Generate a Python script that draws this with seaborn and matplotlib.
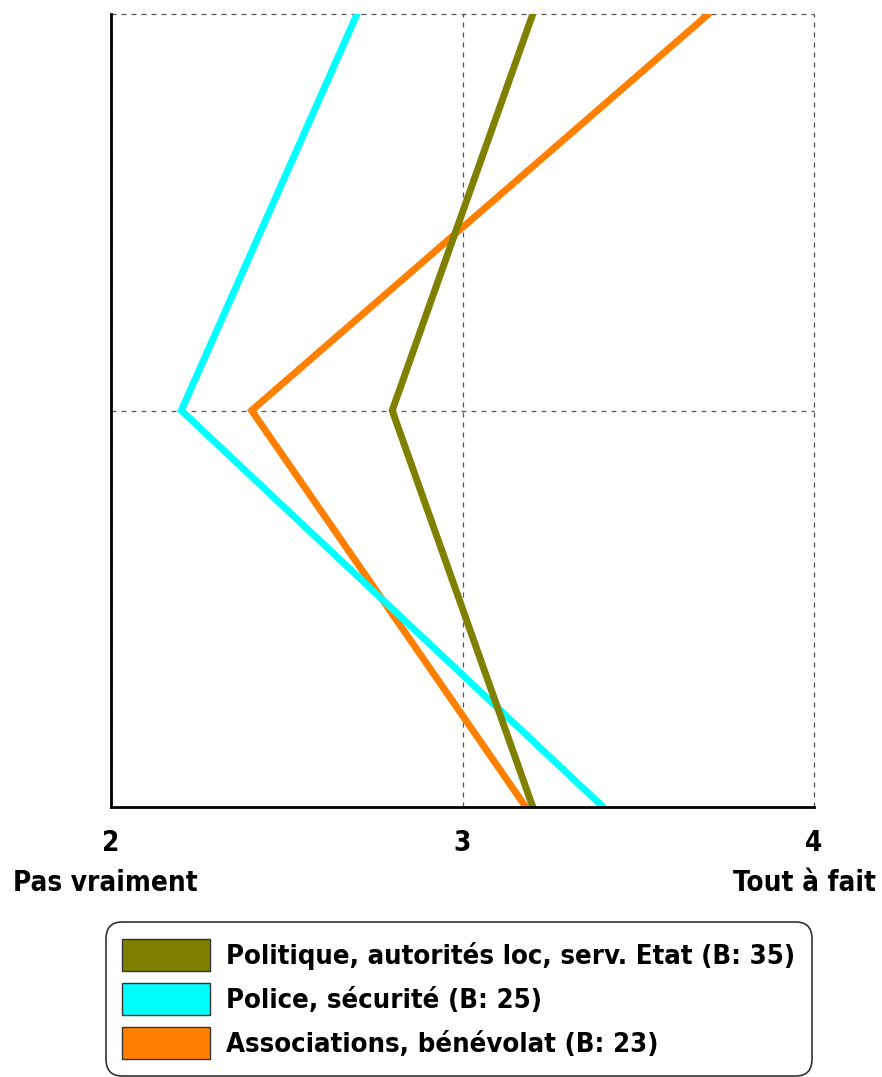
import matplotlib
matplotlib.use("Agg")
import matplotlib.pyplot as plt
import seaborn as sns
import pandas as pd
from matplotlib.patches import Patch
from matplotlib.font_manager import FontProperties

series_names = ["Politique, autorités loc, serv. Etat (B: 35)",
                "Police, sécurité (B: 25)",
                "Associations, bénévolat (B: 23)"]
colors = ["#808000", "#00FFFF", "#FF8000"]
items = [0, 1, 2]
politique = [3.2, 2.8, 3.2]
police = [2.7, 2.2, 3.4]
associations = [3.7, 2.4, 3.18]
x_ticks = [2, 3, 4]
x_labels = ["2", "3", "4"]
scale_labels = ["Pas vraiment", "Tout à fait"]

sns.set_style("white")
plt.rcParams['font.family'] = ['DejaVu Sans']
plt.rcParams['text.color'] = 'black'
plt.rcParams['xtick.color'] = 'black'

fig = plt.figure(figsize=(8.82, 10.77), dpi=100)
ax = fig.add_axes([111/882, 1-807/1077, (814-111)/882, (807-14)/1077])

rows = []
for name, vals in zip(series_names, [politique, police, associations]):
    for i, v in zip(items, vals):
        rows.append({"serie": name, "item": i, "val": v})
df = pd.DataFrame(rows)

order = [2, 1, 0]
for k in order:
    sub = df[df.serie == series_names[k]]
    sns.lineplot(data=sub, x="val", y="item", sort=False, color=colors[k],
                 linewidth=5.0, ax=ax, legend=False, estimator=None,
                 solid_capstyle='round', solid_joinstyle='miter', zorder=3+(2-k))

tick_fp = FontProperties(family='DejaVu Sans', stretch='condensed', weight='bold', size=20)
ax.set_xlim(2, 4)
ax.set_ylim(2, 0)
ax.set_xticks(x_ticks)
ax.set_xticklabels(x_labels, fontproperties=tick_fp, color='black')
ax.set_yticks([0, 1])
ax.set_yticklabels([])
ax.tick_params(axis='both', length=0, pad=16)
ax.set_xlabel("")
ax.set_ylabel("")
ax.grid(True, linestyle=(0, (4, 4)), color='#555555', linewidth=0.9)
for gl in ax.get_xgridlines() + ax.get_ygridlines():
    gl.set_clip_on(False)
ax.set_axisbelow(True)
for s in ['top', 'right']:
    ax.spines[s].set_visible(False)
for s in ['left', 'bottom']:
    ax.spines[s].set_color('black')
    ax.spines[s].set_linewidth(2)
    ax.spines[s].set_zorder(10)

fig.text(105/882, 1-883/1077, scale_labels[0], fontproperties=tick_fp,
         ha='center', va='center', color='black')
fig.text(876/882, 1-883/1077, scale_labels[1], fontproperties=tick_fp,
         ha='right', va='center', color='black')

leg_fp = FontProperties(family='DejaVu Sans', stretch='condensed', weight='bold', size=19.7)
handles = [Patch(facecolor=c, edgecolor='#333333', linewidth=1) for c in colors]
leg = fig.legend(handles, series_names, loc='center', bbox_to_anchor=(459/882, 1-999/1077),
                 prop=leg_fp, frameon=True, fancybox=True,
                 handlelength=3.2, handleheight=1.45, labelspacing=0.42, handletextpad=0.6,
                 borderpad=0.6, borderaxespad=0, edgecolor='black')
leg.get_frame().set_linewidth(1.2)
leg.get_frame().set_boxstyle('round', pad=0, rounding_size=0.6)
for t in leg.get_texts():
    t.set_color('black')

fig.savefig("out.png", dpi=100)
